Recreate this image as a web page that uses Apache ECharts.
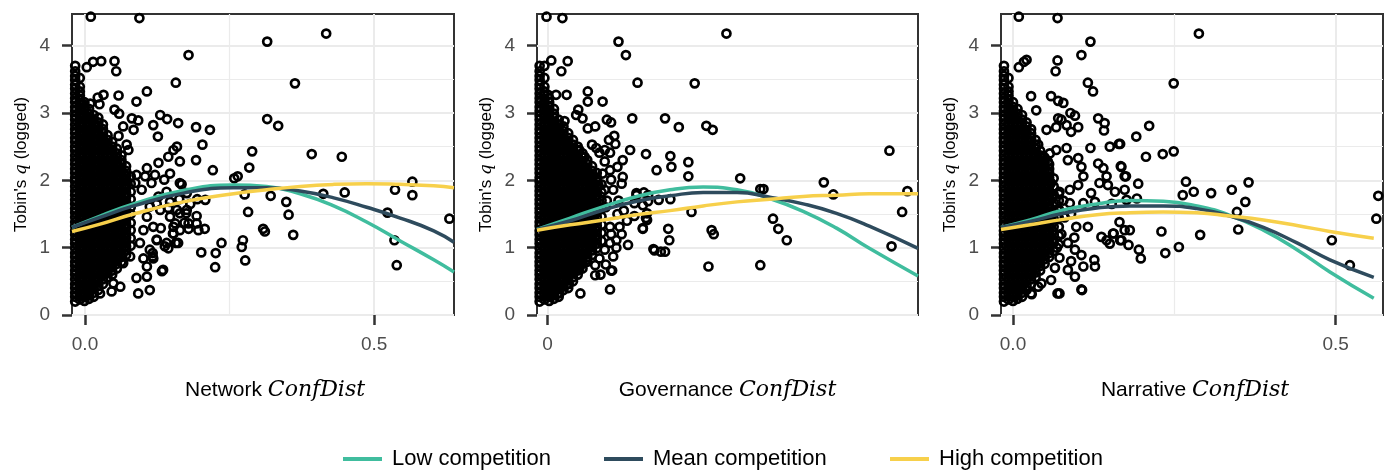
<!DOCTYPE html>
<html><head><meta charset="utf-8">
<script src="https://cdn.jsdelivr.net/npm/echarts@6/dist/echarts.min.js"></script>
<style>html,body{margin:0;padding:0;background:#fff}#c{width:1390px;height:470px}</style>
</head><body><div id="c"></div>
<script>
// ---------- DATA ----------
const panelTitles = ['Network', 'Governance', 'Narrative'];
const seriesNames = ['Low competition', 'Mean competition', 'High competition'];
const yTickValues = [0, 1, 2, 3, 4];
const yMinorValues = [0.5, 1.5, 2.5, 3.5];
const xTickValues1 = [0, 0.5];
const xTickValues2 = [0];
const xTickValues3 = [0, 0.5];
const xTickText1 = ['0.0', '0.5'];
const xTickText2 = ['0'];
const xTickText3 = ['0.0', '0.5'];
const xMinorValues1 = [0.25];
const xMinorValues3 = [0.25];

// dense cluster near zero: [x, [y values]]
const core1 = [
[-0.017,[0.2,0.27,0.33,0.4,0.46,0.53,0.6,0.66,0.73,0.79,0.86,0.92,0.99,1.06,1.12,1.19,1.25,1.32,1.38,1.45,1.52,1.58,1.65,1.71,1.78,1.84,1.91,1.98,2.04,2.11,2.17,2.24,2.3,2.37,2.44,2.5,2.57,2.63,2.7,2.76,2.83,2.9,2.96,3.03,3.09,3.16,3.22,3.29,3.36,3.42,3.49,3.55,3.62,3.7]],
[-0.009,[0.23,0.3,0.37,0.43,0.5,0.56,0.63,0.69,0.76,0.83,0.89,0.96,1.02,1.09,1.15,1.22,1.29,1.35,1.42,1.48,1.55,1.61,1.68,1.75,1.81,1.88,1.94,2.01,2.07,2.14,2.21,2.27,2.34,2.4,2.47,2.53,2.6,2.67,2.73,2.8,2.86,2.93,2.99,3.06,3.13,3.19,3.26,3.32,3.39,3.52]],
[-0.001,[0.21,0.27,0.33,0.4,0.46,0.53,0.6,0.66,0.73,0.79,0.86,0.92,0.99,1.06,1.12,1.19,1.25,1.32,1.38,1.45,1.52,1.58,1.65,1.71,1.78,1.84,1.91,1.98,2.04,2.11,2.17,2.24,2.3,2.37,2.44,2.5,2.57,2.63,2.7,2.76,2.83,2.9,2.96,3.03,3.09,3.16]],
[0.007,[0.24,0.3,0.37,0.43,0.5,0.56,0.63,0.69,0.76,0.83,0.89,0.96,1.02,1.09,1.15,1.22,1.29,1.35,1.42,1.48,1.55,1.61,1.68,1.75,1.81,1.88,1.94,2.01,2.07,2.14,2.21,2.27,2.34,2.4,2.47,2.53,2.6,2.67,2.73,2.8,2.86,2.93,2.99,3.06]],
[0.015,[0.27,0.33,0.4,0.46,0.53,0.6,0.66,0.73,0.79,0.86,0.92,0.99,1.06,1.12,1.19,1.25,1.32,1.38,1.45,1.52,1.58,1.65,1.71,1.78,1.84,1.91,1.98,2.04,2.11,2.17,2.24,2.3,2.37,2.44,2.5,2.57,2.63,2.7,2.76,2.83,2.9,2.97]],
[0.023,[0.37,0.43,0.5,0.56,0.63,0.69,0.76,0.83,0.89,0.96,1.02,1.09,1.15,1.22,1.29,1.35,1.42,1.48,1.55,1.61,1.68,1.75,1.81,1.88,1.94,2.01,2.07,2.14,2.21,2.27,2.34,2.4,2.47,2.53,2.6,2.67,2.73,2.8,2.86,2.93]],
[0.031,[0.46,0.53,0.6,0.66,0.73,0.79,0.86,0.92,0.99,1.06,1.12,1.19,1.25,1.32,1.38,1.45,1.52,1.58,1.65,1.71,1.78,1.84,1.91,1.98,2.04,2.11,2.17,2.24,2.3,2.37,2.44,2.5,2.57,2.63,2.7,2.76,2.83]],
[0.039,[0.56,0.63,0.69,0.76,0.83,0.89,0.96,1.02,1.09,1.15,1.22,1.29,1.35,1.42,1.48,1.55,1.61,1.68,1.75,1.81,1.88,1.94,2.01,2.07,2.14,2.21,2.27,2.34,2.4,2.47,2.53,2.6,2.67]],
[0.047,[0.6,0.66,0.73,0.79,0.86,0.92,0.99,1.06,1.12,1.19,1.25,1.32,1.38,1.45,1.52,1.58,1.65,1.71,1.78,1.84,1.91,1.98,2.04,2.11,2.17,2.24,2.3,2.37,2.44,2.5,2.57]],
[0.055,[0.69,0.76,0.83,0.89,0.96,1.02,1.09,1.15,1.22,1.29,1.35,1.42,1.48,1.55,1.61,1.68,1.75,1.81,1.88,1.94,2.01,2.07,2.14,2.21,2.27,2.34,2.4,2.47]],
[0.063,[0.79,0.86,0.92,0.99,1.06,1.12,1.19,1.25,1.32,1.38,1.45,1.52,1.58,1.65,1.71,1.78,1.84,1.91,1.98,2.04,2.11,2.17,2.24,2.3,2.37]],
[0.071,[0.89,0.96,1.02,1.09,1.15,1.22,1.29,1.35,1.42,1.48,1.55,1.61,1.68,1.75,1.81,1.88,1.94,2.01,2.07,2.14,2.21]],
[0.079,[1.03,1.14,1.26,1.37,1.5,1.6,1.72,1.83,1.95,2.06]]
];
const core2 = [
[-0.0075,[0.2,0.27,0.33,0.4,0.46,0.53,0.6,0.66,0.73,0.79,0.86,0.92,0.99,1.06,1.12,1.19,1.25,1.32,1.38,1.45,1.52,1.58,1.65,1.71,1.78,1.84,1.91,1.98,2.04,2.11,2.17,2.24,2.3,2.37,2.44,2.5,2.57,2.63,2.7,2.76,2.83,2.9,2.96,3.03,3.09,3.16,3.22,3.29,3.36,3.42,3.49,3.55,3.62,3.7]],
[-0.003,[0.23,0.3,0.37,0.43,0.5,0.56,0.63,0.69,0.76,0.83,0.89,0.96,1.02,1.09,1.15,1.22,1.29,1.35,1.42,1.48,1.55,1.61,1.68,1.75,1.81,1.88,1.94,2.01,2.07,2.14,2.21,2.27,2.34,2.4,2.47,2.53,2.6,2.67,2.73,2.8,2.86,2.93,2.99,3.06,3.13,3.19,3.26,3.32,3.39,3.52]],
[0.0015,[0.21,0.27,0.33,0.4,0.46,0.53,0.6,0.66,0.73,0.79,0.86,0.92,0.99,1.06,1.12,1.19,1.25,1.32,1.38,1.45,1.52,1.58,1.65,1.71,1.78,1.84,1.91,1.98,2.04,2.11,2.17,2.24,2.3,2.37,2.44,2.5,2.57,2.63,2.7,2.76,2.83,2.9,2.96,3.03,3.09,3.16,3.22]],
[0.006,[0.24,0.3,0.37,0.43,0.5,0.56,0.63,0.69,0.76,0.83,0.89,0.96,1.02,1.09,1.15,1.22,1.29,1.35,1.42,1.48,1.55,1.61,1.68,1.75,1.81,1.88,1.94,2.01,2.07,2.14,2.21,2.27,2.34,2.4,2.47,2.53,2.6,2.67,2.73,2.8,2.86,2.93,2.99,3.06]],
[0.0105,[0.27,0.33,0.4,0.46,0.53,0.6,0.66,0.73,0.79,0.86,0.92,0.99,1.06,1.12,1.19,1.25,1.32,1.38,1.45,1.52,1.58,1.65,1.71,1.78,1.84,1.91,1.98,2.04,2.11,2.17,2.24,2.3,2.37,2.44,2.5,2.57,2.63,2.7,2.76,2.83,2.9]],
[0.015,[0.37,0.43,0.5,0.56,0.63,0.69,0.76,0.83,0.89,0.96,1.02,1.09,1.15,1.22,1.29,1.35,1.42,1.48,1.55,1.61,1.68,1.75,1.81,1.88,1.94,2.01,2.07,2.14,2.21,2.27,2.34,2.4,2.47,2.53,2.6,2.67,2.73,2.8]],
[0.0195,[0.4,0.46,0.53,0.6,0.66,0.73,0.79,0.86,0.92,0.99,1.06,1.12,1.19,1.25,1.32,1.38,1.45,1.52,1.58,1.65,1.71,1.78,1.84,1.91,1.98,2.04,2.11,2.17,2.24,2.3,2.37,2.44,2.5,2.57,2.63,2.7]],
[0.024,[0.5,0.56,0.63,0.69,0.76,0.83,0.89,0.96,1.02,1.09,1.15,1.22,1.29,1.35,1.42,1.48,1.55,1.61,1.68,1.75,1.81,1.88,1.94,2.01,2.07,2.14,2.21,2.27,2.34,2.4,2.47,2.53,2.6]],
[0.0285,[0.6,0.66,0.73,0.79,0.86,0.92,0.99,1.06,1.12,1.19,1.25,1.32,1.38,1.45,1.52,1.58,1.65,1.71,1.78,1.84,1.91,1.98,2.04,2.11,2.17,2.24,2.3,2.37,2.44,2.5]],
[0.033,[0.69,0.76,0.83,0.89,0.96,1.02,1.09,1.15,1.22,1.29,1.35,1.42,1.48,1.55,1.61,1.68,1.75,1.81,1.88,1.94,2.01,2.07,2.14,2.21,2.27,2.34,2.4]],
[0.0375,[0.79,0.86,0.92,0.99,1.06,1.12,1.19,1.25,1.32,1.38,1.45,1.52,1.58,1.65,1.71,1.78,1.84,1.91,1.98,2.04,2.11,2.17,2.24,2.3]],
[0.042,[0.89,0.96,1.02,1.09,1.15,1.22,1.29,1.35,1.42,1.48,1.55,1.61,1.68,1.75,1.81,1.88,1.94,2.01,2.07,2.14,2.21]],
[0.0465,[0.99,1.06,1.12,1.19,1.25,1.32,1.38,1.45,1.52,1.58,1.65,1.71,1.78,1.84,1.91,1.98,2.04,2.11]],
[0.051,[1.1,1.22,1.34,1.46,1.58,1.7,1.82,1.94]]
];
const core3 = [
[-0.014,[0.2,0.27,0.33,0.4,0.46,0.53,0.6,0.66,0.73,0.79,0.86,0.92,0.99,1.06,1.12,1.19,1.25,1.32,1.38,1.45,1.52,1.58,1.65,1.71,1.78,1.84,1.91,1.98,2.04,2.11,2.17,2.24,2.3,2.37,2.44,2.5,2.57,2.63,2.7,2.76,2.83,2.9,2.96,3.03,3.09,3.16,3.22,3.29,3.36,3.42,3.49,3.55,3.62,3.7]],
[-0.007,[0.23,0.3,0.37,0.43,0.5,0.56,0.63,0.69,0.76,0.83,0.89,0.96,1.02,1.09,1.15,1.22,1.29,1.35,1.42,1.48,1.55,1.61,1.68,1.75,1.81,1.88,1.94,2.01,2.07,2.14,2.21,2.27,2.34,2.4,2.47,2.53,2.6,2.67,2.73,2.8,2.86,2.93,2.99,3.06,3.13,3.19,3.26,3.32,3.39,3.52]],
[0.0,[0.21,0.27,0.33,0.4,0.46,0.53,0.6,0.66,0.73,0.79,0.86,0.92,0.99,1.06,1.12,1.19,1.25,1.32,1.38,1.45,1.52,1.58,1.65,1.71,1.78,1.84,1.91,1.98,2.04,2.11,2.17,2.24,2.3,2.37,2.44,2.5,2.57,2.63,2.7,2.76,2.83,2.9,2.96,3.03,3.09,3.16]],
[0.007,[0.24,0.3,0.37,0.43,0.5,0.56,0.63,0.69,0.76,0.83,0.89,0.96,1.02,1.09,1.15,1.22,1.29,1.35,1.42,1.48,1.55,1.61,1.68,1.75,1.81,1.88,1.94,2.01,2.07,2.14,2.21,2.27,2.34,2.4,2.47,2.53,2.6,2.67,2.73,2.8,2.86,2.93,2.99,3.06]],
[0.014,[0.27,0.33,0.4,0.46,0.53,0.6,0.66,0.73,0.79,0.86,0.92,0.99,1.06,1.12,1.19,1.25,1.32,1.38,1.45,1.52,1.58,1.65,1.71,1.78,1.84,1.91,1.98,2.04,2.11,2.17,2.24,2.3,2.37,2.44,2.5,2.57,2.63,2.7,2.76,2.83,2.9,2.97]],
[0.021,[0.37,0.43,0.5,0.56,0.63,0.69,0.76,0.83,0.89,0.96,1.02,1.09,1.15,1.22,1.29,1.35,1.42,1.48,1.55,1.61,1.68,1.75,1.81,1.88,1.94,2.01,2.07,2.14,2.21,2.27,2.34,2.4,2.47,2.53,2.6,2.67,2.73,2.8,2.86]],
[0.028,[0.46,0.53,0.6,0.66,0.73,0.79,0.86,0.92,0.99,1.06,1.12,1.19,1.25,1.32,1.38,1.45,1.52,1.58,1.65,1.71,1.78,1.84,1.91,1.98,2.04,2.11,2.17,2.24,2.3,2.37,2.44,2.5,2.57,2.63,2.7,2.76]],
[0.035,[0.56,0.63,0.69,0.76,0.83,0.89,0.96,1.02,1.09,1.15,1.22,1.29,1.35,1.42,1.48,1.55,1.61,1.68,1.75,1.81,1.88,1.94,2.01,2.07,2.14,2.21,2.27,2.34,2.4,2.47,2.53,2.6]],
[0.042,[0.66,0.73,0.79,0.86,0.92,0.99,1.06,1.12,1.19,1.25,1.32,1.38,1.45,1.52,1.58,1.65,1.71,1.78,1.84,1.91,1.98,2.04,2.11,2.17,2.24,2.3,2.37,2.44]],
[0.049,[0.76,0.83,0.89,0.96,1.02,1.09,1.15,1.22,1.29,1.35,1.42,1.48,1.55,1.61,1.68,1.75,1.81,1.88,1.94,2.01,2.07,2.14,2.21,2.27,2.34]],
[0.056,[0.86,0.92,0.99,1.06,1.12,1.19,1.25,1.32,1.38,1.45,1.52,1.58,1.65,1.71,1.78,1.84,1.91,1.98,2.04,2.11,2.17,2.24]],
[0.063,[0.95,1.07,1.19,1.31,1.43,1.55,1.67,1.79,1.91,2.03]],
[0.071,[1.05,1.18,1.31,1.44,1.57,1.7,1.8]]
];

// individual points away from the dense cluster: [x, y]
const points1 = [[0.010,4.43],[0.094,4.41],[0.179,3.86],[0.157,3.45],[0.003,3.68],[0.014,3.76],[0.028,3.77],[0.051,3.77],[0.054,3.62],[0.107,3.32],[0.089,3.17],[0.058,3.26],[0.032,3.27],[0.022,3.23],[0.009,3.14],[0.025,3.13],[-0.006,3.15],[0.051,3.05],[0.059,2.99],[0.081,2.92],[0.092,2.89],[0.066,2.80],[0.084,2.75],[0.058,2.66],[0.130,2.97],[0.142,2.91],[0.118,2.82],[0.161,2.85],[0.126,2.65],[0.192,2.79],[0.072,2.53],[0.075,2.45],[0.159,2.50],[0.153,2.45],[0.144,2.35],[0.192,2.30],[0.127,2.26],[0.164,2.28],[0.107,2.18],[0.089,2.08],[0.104,2.06],[0.121,2.08],[0.147,2.10],[0.137,2.01],[0.115,1.96],[0.087,1.96],[0.098,1.86],[0.164,1.96],[0.176,1.81],[0.127,1.76],[0.141,1.83],[0.147,1.68],[0.159,1.56],[0.130,1.56],[0.112,1.61],[0.107,1.46],[0.147,1.46],[0.176,1.56],[0.193,1.36],[0.179,1.36],[0.164,1.26],[0.156,1.36],[0.153,1.21],[0.161,1.07],[0.141,1.07],[0.124,1.11],[0.118,1.31],[0.101,1.26],[0.095,1.07],[0.112,0.97],[0.101,0.84],[0.118,0.84],[0.078,0.87],[0.107,0.72],[0.107,0.57],[0.135,0.67],[0.066,0.77],[0.089,0.55],[0.061,0.42],[0.049,0.47],[0.026,0.32],[0.046,0.35],[0.092,0.32],[0.112,0.37],[0.124,1.65],[0.144,1.59],[0.164,1.51],[0.153,1.31],[0.124,1.12],[0.144,0.99],[0.117,0.92],
[0.216,2.75],[0.203,2.53],[0.221,2.15],[0.258,2.03],[0.264,2.06],[0.284,2.19],[0.289,2.43],[0.315,2.91],[0.334,2.81],[0.315,4.06],[0.417,4.18],[0.363,3.44],[0.392,2.39],[0.444,2.35],[0.276,1.79],[0.321,1.77],[0.412,1.80],[0.449,1.82],[0.536,1.86],[0.566,1.98],[0.566,1.78],[0.348,1.68],[0.352,1.49],[0.360,1.19],[0.282,1.53],[0.523,1.52],[0.630,1.43],[0.535,1.11],[0.539,0.74],[0.308,1.28],[0.311,1.24],[0.273,1.11],[0.271,1.01],[0.277,0.81],[0.236,1.07],[0.226,0.92],[0.225,0.71],[0.201,0.93],[0.207,1.28],[0.196,1.26],[0.193,1.47],[0.194,1.72],[0.208,1.71],[0.182,1.65],[0.167,1.94],[0.133,0.65],[0.163,1.72],[0.175,1.51],[0.172,1.37],[0.179,1.28],[0.152,1.21],[0.157,1.07],[0.138,1.02],[0.117,0.87],[0.131,1.29]];
const points2 = [[-0.001,4.43],[0.014,4.41],[0.067,4.06],[0.074,3.86],[0.085,3.45],[0.0035,3.78],[-0.003,3.70],[0.019,3.77],[0.013,3.62],[0.0004,3.27],[0.008,3.27],[0.018,3.27],[-0.006,3.19],[0.038,3.32],[0.052,3.17],[0.038,3.17],[0.029,3.05],[0.027,2.97],[0.033,2.92],[0.016,2.88],[0.038,2.77],[0.045,2.80],[0.056,2.90],[0.060,2.86],[0.080,2.92],[0.063,2.66],[0.064,2.54],[0.042,2.53],[0.046,2.48],[0.049,2.41],[0.054,2.45],[0.059,2.41],[0.093,2.39],[0.030,2.45],[0.035,2.35],[0.103,2.15],[0.071,2.05],[0.054,2.28],[0.059,2.15],[0.052,2.10],[0.060,2.01],[0.043,2.05],[0.037,2.08],[0.048,1.93],[0.054,1.86],[0.062,1.86],[0.084,1.78],[0.095,1.78],[0.082,1.66],[0.090,1.63],[0.093,1.44],[0.090,1.29],[0.068,1.31],[0.070,1.20],[0.076,1.04],[0.059,1.31],[0.065,1.11],[0.059,1.07],[0.054,0.97],[0.062,0.87],[0.049,0.84],[0.045,0.74],[0.037,0.82],[0.030,0.69],[0.045,0.59],[0.060,0.66],[0.059,0.38],[0.031,0.32],[0.019,0.46],[0.011,0.32],[0.100,0.98],[0.107,0.94],[0.066,2.2],[0.07,1.95],[0.067,1.7],[0.072,1.55],[0.075,1.4],[0.066,1.5],[0.071,2.3],[0.078,2.45],[0.058,2.6],[0.055,1.6],[0.056,1.7],[0.06,1.2],[0.065,1.0],[0.055,0.75],[0.05,0.6],
[0.169,4.18],[0.139,3.44],[0.111,2.92],[0.124,2.79],[0.150,2.81],[0.156,2.75],[0.116,2.36],[0.117,2.20],[0.133,2.27],[0.133,2.06],[0.182,2.03],[0.261,1.97],[0.270,1.79],[0.323,2.44],[0.340,1.84],[0.335,1.53],[0.325,1.02],[0.201,1.87],[0.204,1.87],[0.213,1.43],[0.218,1.28],[0.226,1.11],[0.201,0.74],[0.152,0.72],[0.155,1.26],[0.157,1.20],[0.136,1.53],[0.105,1.71],[0.116,1.72],[0.114,1.28],[0.115,1.11],[0.101,0.96],[0.111,0.94],[0.090,1.28],[0.082,1.47],[0.094,1.51],[0.094,1.41],[0.084,1.81],[0.091,1.82],[0.095,1.69],[0.061,0.66],[0.020,0.46]];
const points3 = [[0.009,4.43],[0.069,4.41],[0.120,4.06],[0.106,3.86],[0.116,3.45],[0.124,3.32],[0.009,3.68],[0.017,3.76],[0.021,3.79],[0.069,3.78],[0.066,3.62],[0.028,3.25],[0.059,3.25],[0.070,3.18],[0.078,3.15],[0.036,3.04],[0.089,3.0],[0.070,2.92],[0.075,2.90],[0.067,2.79],[0.083,2.82],[0.096,2.96],[0.101,2.79],[0.090,2.72],[0.052,2.75],[0.132,2.92],[0.142,2.85],[0.141,2.74],[0.120,2.48],[0.150,2.50],[0.164,2.54],[0.067,2.45],[0.083,2.48],[0.101,2.33],[0.106,2.20],[0.109,2.06],[0.101,1.93],[0.088,1.86],[0.072,1.83],[0.059,1.96],[0.054,2.11],[0.054,2.28],[0.057,2.40],[0.039,2.53],[0.044,2.35],[0.132,2.25],[0.140,2.18],[0.145,2.06],[0.134,1.96],[0.147,1.93],[0.158,1.83],[0.127,1.68],[0.109,1.66],[0.088,1.66],[0.121,1.81],[0.168,2.20],[0.173,2.06],[0.173,1.86],[0.098,1.31],[0.116,1.31],[0.137,1.16],[0.145,1.11],[0.155,1.21],[0.168,1.11],[0.173,1.26],[0.085,1.07],[0.096,0.97],[0.106,0.89],[0.127,0.72],[0.109,0.72],[0.085,0.67],[0.096,0.57],[0.059,0.52],[0.044,0.47],[0.028,0.32],[0.072,0.32],[0.106,0.38],[0.039,0.42],[0.075,1.2],[0.08,1.45],[0.07,1.55],[0.078,1.7],[0.068,1.0],[0.072,0.85],[0.065,0.7],[0.09,1.5],[0.085,2.3],[0.095,1.15],[0.09,0.8],
[0.288,4.18],[0.249,3.44],[0.211,2.81],[0.191,2.65],[0.206,2.35],[0.232,2.39],[0.249,2.43],[0.166,2.54],[0.167,2.21],[0.175,2.06],[0.194,1.95],[0.268,1.98],[0.280,1.83],[0.263,1.78],[0.307,1.81],[0.339,1.86],[0.365,1.97],[0.360,1.68],[0.347,1.53],[0.349,1.27],[0.290,1.19],[0.230,1.24],[0.257,1.01],[0.236,0.92],[0.195,0.97],[0.198,0.84],[0.494,1.11],[0.522,0.74],[0.563,1.43],[0.566,1.77],[0.181,1.26],[0.179,1.04],[0.166,1.11],[0.165,1.38],[0.150,1.06],[0.156,1.21],[0.126,0.82],[0.107,0.37],[0.069,0.32],[0.029,0.31],[0.153,1.65],[0.176,1.71],[0.192,1.73]];

// fitted curves
const curveX1 = [-0.0225,0.026,0.084,0.17,0.257,0.314,0.372,0.43,0.487,0.545,0.603,0.638];
const low1  = [1.30,1.47,1.65,1.85,1.93,1.91,1.80,1.62,1.38,1.10,0.82,0.64];
const mean1 = [1.30,1.45,1.62,1.81,1.89,1.89,1.84,1.74,1.60,1.44,1.25,1.08];
const high1 = [1.24,1.35,1.50,1.68,1.80,1.86,1.91,1.94,1.95,1.94,1.92,1.89];
const curveX2 = [-0.01,0.0214,0.0528,0.0843,0.1157,0.147,0.179,0.21,0.2415,0.273,0.304,0.35];
const low2  = [1.27,1.44,1.61,1.76,1.86,1.90,1.86,1.73,1.54,1.29,0.99,0.58];
const mean2 = [1.27,1.40,1.56,1.69,1.77,1.82,1.82,1.75,1.65,1.51,1.32,0.99];
const high2 = [1.26,1.34,1.41,1.49,1.55,1.62,1.68,1.72,1.76,1.78,1.80,1.80];
const curveX3 = [-0.0186,0.0264,0.078,0.130,0.181,0.233,0.285,0.336,0.388,0.440,0.491,0.559];
const low3  = [1.30,1.41,1.56,1.65,1.70,1.69,1.62,1.48,1.26,0.97,0.64,0.25];
const mean3 = [1.30,1.39,1.51,1.59,1.62,1.62,1.58,1.47,1.30,1.07,0.82,0.56];
const high3 = [1.27,1.34,1.42,1.49,1.52,1.53,1.52,1.47,1.41,1.33,1.24,1.14];

// ---------- CHART ----------
const FONT = '"Liberation Sans", Arial, Helvetica, sans-serif';
const MATH = '"DejaVu Serif", serif';
const COLORS = ['#40bd9e', '#2e4b5d', '#f7d04b'];
const gridBoxes = [
  {left: 72, top: 14, width: 382, height: 301},
  {left: 537, top: 14, width: 381, height: 301},
  {left: 1001, top: 14, width: 382, height: 301}
];
const xExtents = [[-0.0225, 0.638], [-0.01, 0.35], [-0.0186, 0.5733]];
const titleShift = [24, 0, 6];
const yMax = 4.47;

const cores = [core1, core2, core3];
const pointSets = [points1, points2, points3];
const xTickVals = [xTickValues1, xTickValues2, xTickValues3];
const xTickTexts = [xTickText1, xTickText2, xTickText3];
const xMinors = [xMinorValues1, null, xMinorValues3];
const curves = [
  [curveX1, [low1, mean1, high1]],
  [curveX2, [low2, mean2, high2]],
  [curveX3, [low3, mean3, high3]]
];

const grid = gridBoxes.map(g => Object.assign({show: true, borderColor: '#333', borderWidth: 2, backgroundColor: 'transparent'}, g));
const xAxis = [];
const yAxis = [];
const series = [];

for (let i = 0; i < 3; i++) {
  const vals = xTickVals[i], texts = xTickTexts[i];
  xAxis.push({
    type: 'value', gridIndex: i, min: xExtents[i][0], max: xExtents[i][1], position: 'bottom',
    axisLine: {show: false, onZero: false},
    axisTick: {show: true, length: 10, lineStyle: {color: '#333', width: 2.5}, customValues: vals},
    axisLabel: {customValues: vals, formatter: v => { const k = vals.findIndex(t => Math.abs(t - v) < 1e-9); return k >= 0 ? texts[k] : ''; },
      fontSize: 19, color: '#4d4d4d', margin: 20, fontFamily: FONT},
    splitLine: {show: true, lineStyle: {color: '#ebebeb', width: 2}},
    name: '{a|' + panelTitles[i] + ' }{b|ConfDist}', nameLocation: 'middle', nameGap: 64,
    nameTextStyle: {padding: [0, 0, 0, titleShift[i]], rich: {
      a: {fontSize: 21, fontFamily: FONT, color: '#000'},
      b: {fontSize: 22, fontFamily: MATH, fontStyle: 'italic', color: '#000'}}}
  });
  yAxis.push({
    type: 'value', gridIndex: i, min: 0, max: yMax, position: 'left',
    axisLine: {show: false, onZero: false},
    axisTick: {show: true, length: 10, lineStyle: {color: '#333', width: 2.5}, customValues: yTickValues},
    axisLabel: {customValues: yTickValues, fontSize: 19, color: '#4d4d4d', margin: 22, fontFamily: FONT},
    splitLine: {show: true, lineStyle: {color: '#ebebeb', width: 2}},
    name: "{a|Tobin's }{q|q}{a| (logged)}", nameLocation: 'middle', nameGap: 42,
    nameTextStyle: {rich: {
      a: {fontSize: 17, fontFamily: FONT, color: '#000'},
      q: {fontSize: 17, fontFamily: MATH, fontStyle: 'italic', color: '#000'}}}
  });
}
// minor grid lines (thin) via helper axes
for (let i = 0; i < 3; i++) {
  yAxis.push({
    type: 'value', gridIndex: i, min: 0, max: yMax, position: 'right',
    axisLine: {show: false, onZero: false}, axisLabel: {show: false},
    axisTick: {show: false, customValues: yMinorValues},
    splitLine: {show: true, lineStyle: {color: '#ebebeb', width: 1.2}}
  });
  if (xMinors[i]) {
    xAxis.push({
      type: 'value', gridIndex: i, min: xExtents[i][0], max: xExtents[i][1], position: 'top',
      axisLine: {show: false, onZero: false}, axisLabel: {show: false},
      axisTick: {show: false, customValues: xMinors[i]},
      splitLine: {show: true, lineStyle: {color: '#ebebeb', width: 1.2}}
    });
  }
}

for (let i = 0; i < 3; i++) {
  const data = [];
  cores[i].forEach(col => col[1].forEach(y => data.push([col[0], y])));
  pointSets[i].forEach(p => data.push(p));
  series.push({
    type: 'scatter', xAxisIndex: i, yAxisIndex: i, data: data,
    symbol: 'circle', symbolSize: 8, silent: true, z: 2,
    itemStyle: {color: 'rgba(0,0,0,0)', borderColor: '#000', borderWidth: 2.7, opacity: 1}
  });
  const cx = curves[i][0];
  curves[i][1].forEach((ys, k) => {
    series.push({
      type: 'line', name: seriesNames[k], xAxisIndex: i, yAxisIndex: i,
      data: cx.map((x, j) => [x, ys[j]]), smooth: true, showSymbol: false, silent: true, z: 3,
      lineStyle: {color: COLORS[k], width: 3.5}, itemStyle: {color: COLORS[k]}
    });
  });
}

const legendLeft = [343, 604, 890];
const legend = seriesNames.map((n, k) => ({
  data: [n], left: legendLeft[k], top: 448, padding: 0, icon: 'rect', itemWidth: 39, itemHeight: 4,
  selectedMode: false,
  textStyle: {fontSize: 22, color: '#000', fontFamily: FONT, padding: [0, 0, 0, 5]}
}));

const chart = echarts.init(document.getElementById('c'), null, {renderer: 'canvas'});
chart.setOption({animation: false, backgroundColor: '#fff', grid, xAxis, yAxis, series, legend});
</script>
</body></html>
